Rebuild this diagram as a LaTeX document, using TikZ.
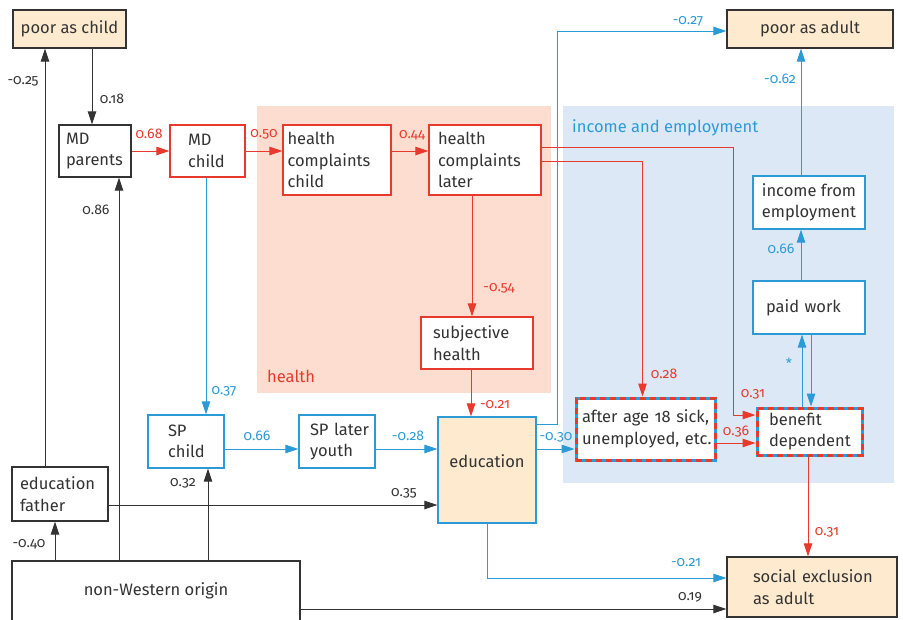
\documentclass[tikz,border=0pt]{standalone}
\usepackage{fontspec}
\setmainfont{Fira Sans}[Numbers=OldStyle]
\usetikzlibrary{arrows.meta}
\definecolor{dk}{HTML}{333333}
\definecolor{rd}{HTML}{E8392D}
\definecolor{bl}{HTML}{2B9BD7}
\definecolor{bgc}{HTML}{FEEBCF}
\definecolor{hbg}{HTML}{FDDDD0}
\definecolor{ibg}{HTML}{DCE8F5}
\newcommand\bxf{\fontsize{16.5}{21.5}\selectfont}
\newcommand\lbf{\fontsize{14}{16}\selectfont}
\begin{document}
\begin{tikzpicture}[x=1pt,y=-1pt,
 bx/.style={draw=dk, line width=1.3pt, fill=white, inner ysep=0pt, font=\bxf, text=dk, align=left},
 wl/.style 2 args={inner xsep=#2pt, text width=#1pt},
 ctr/.style 2 args={minimum width=#1pt, minimum height=#2pt, align=center, inner xsep=0pt},
 rb/.style={bx, draw=rd},
 bb/.style={bx, draw=bl},
 db/.style={bx, draw=bl, line width=3pt, postaction={draw=rd, fill=none, line width=3pt, dash pattern=on 6pt off 4pt}},
 arr/.style={line width=1pt, -{Triangle[length=13pt,width=8.5pt]}},
 ra/.style={arr, rd}, ba/.style={arr, bl}, ka/.style={arr, dk},
 lb/.style={font=\lbf, inner sep=0pt},
]
\useasboundingbox (0,0) rectangle (903,619);
\fill[white] (0,0) rectangle (903,619);
\fill[hbg] (257,106) rectangle (551,393);
\fill[ibg] (563,106) rectangle (894,483);
\node[font=\bxf, text=rd, anchor=base west, inner sep=0pt] (hl) at (267,382) {health};
\node[font=\bxf, text=bl, anchor=base west, inner sep=0pt] (il) at (572,132) {income and employment};

% boxes
\node[bx, fill=bgc, ctr={113}{38}] (pac) at (69.5,29) {poor as child};
\node[bx, wl={58}{7}, minimum height=52pt] (mdp) at (95,151) {MD\\parents};
\node[rb, wl={39}{18}, minimum height=52pt] (mdc) at (207.5,151) {MD\\child};
\node[rb, wl={99}{4.5}, minimum height=70pt] (hcc) at (337,160) {health\\complaints\\child};
\node[rb, wl={94}{9}, minimum height=70pt] (hcl) at (485,160) {health\\complaints\\later};
\node[rb, wl={88}{12}, minimum height=52pt] (sh) at (477,343) {subjective\\health};
\node[bx, fill=bgc, ctr={166}{38}] (paa) at (810,29) {poor as adult};
\node[bb, ctr={112}{53}] (inc) at (809,202.5) {income from\\employment};
\node[bb, wl={86}{13}, minimum height=53pt] (pw) at (809,307.5) {paid work};
\node[db, wl={81}{12}, minimum height=47pt] (ben) at (809.5,431.5) {benefit\\dependent};
\node[db, wl={127}{6}, minimum height=62pt] (aft) at (645.5,429) {\mbox{after age 18 sick,}\\\mbox{unemployed, etc.}};
\node[bb, fill=bgc, ctr={98}{106}, text depth=18pt] (edu) at (487,470) {education};
\node[bb, wl={36}{20}, minimum height=53pt] (spc) at (186,441.5) {SP\\child};
\node[bb, wl={54}{11}, minimum height=53pt] (spl) at (337,441.5) {\mbox{SP later}\\youth};
\node[bx, wl={80}{8}, minimum height=54pt] (edf) at (60,494) {education\\father};
\node[bx, ctr={288}{60}] (nwo) at (156,591) {non-Western origin};
\node[bx, fill=bgc, wl={118}{26}, minimum height=60pt] (sea) at (812,587) {\mbox{social exclusion}\\as adult};

% black connectors
\draw[ka] ([xshift=-3pt]mdp.north |- pac.south) -- ([xshift=-3pt]mdp.north);
\draw[ka] ([xshift=-15pt]edf.north) -- ([xshift=-15pt]edf.north |- pac.south);
\draw[ka] ([xshift=-5pt]edf.south |- nwo.north) -- ([xshift=-5pt]edf.south);
\draw[ka] ([xshift=24pt]mdp.south |- nwo.north) -- ([xshift=24pt]mdp.south);
\draw[ka] ([xshift=22pt]spc.south |- nwo.north) -- ([xshift=22pt]spc.south);
\draw[ka] ([yshift=-18pt]nwo.east) -- ([yshift=-18pt]nwo.east -| sea.west);
\draw[ka] ([yshift=-11pt]edf.east) -- ([yshift=-11pt]edf.east -| edu.west);
% red connectors
\draw[ra] (mdp.east) -- (mdc.west);
\draw[ra] (mdc.east) -- (mdc.east -| hcc.west);
\draw[ra] ([yshift=9pt]hcc.east) -- ([yshift=9pt]hcc.east -| hcl.west);
\draw[ra] ([xshift=-13pt]hcl.south) -- ([xshift=-13pt]hcl.south |- sh.north);
\draw[ra] ([xshift=-6pt]sh.south) -- ([xshift=-6pt]sh.south |- edu.north);
\draw[ra] ([yshift=13pt]hcl.east) -- ++(192,0) |- ([yshift=16.5pt]ben.west);
\draw[ra] ([yshift=-1pt]hcl.east) -| ([xshift=-3pt]aft.north);
\draw[ra] ([yshift=-14pt]aft.east) -- ([yshift=-14pt]aft.east -| ben.west);
\draw[ra] ([xshift=-1.5pt]ben.south) -- ([xshift=-1.5pt]ben.south |- sea.north);
% blue connectors
\draw[ba] ([xshift=-1.5pt]mdc.south) -- ([xshift=-1.5pt]mdc.south |- spc.north);
\draw[ba] ([yshift=-7.5pt]spc.east) -- ([yshift=-7.5pt]spc.east -| spl.west);
\draw[ba] ([yshift=-7.5pt]spl.east) -- ([yshift=-7.5pt]spl.east -| edu.west);
\draw[ba] ([yshift=21pt]edu.east) -- ([yshift=21pt]edu.east -| aft.west);
\draw[ba] ([yshift=46pt]edu.east) -- ++(21,0) |- ([yshift=-2pt]paa.west);
\draw[ba] (edu.south) |- ([yshift=9pt]sea.west);
\draw[ba] ([xshift=-8pt]pw.north) -- ([xshift=-8pt]pw.north |- inc.south);
\draw[ba] ([xshift=-8pt]inc.north) -- ([xshift=-8pt]inc.north |- paa.south);
\draw[ba] ([xshift=-7.5pt]ben.north) -- ([xshift=-7.5pt]ben.north |- pw.south);
\draw[ba] ([xshift=2pt]pw.south) -- ([xshift=2pt]pw.south |- ben.north);

% labels
\node[lb, text=dk] (l018) at (112,99) {0.18};
\node[lb, text=dk] (l025) at (23,81) {-0.25};
\node[lb, text=dk] (l086) at (96,210) {0.86};
\node[lb, text=dk] (l032) at (183,483) {0.32};
\node[lb, text=dk] (l035) at (404,493) {0.35};
\node[lb, text=dk] (l040) at (29,544) {-0.40};
\node[lb, text=dk] (l019) at (690,597) {0.19};
\node[lb, text=rd] (l068) at (149,134) {0.68};
\node[lb, text=rd] (l050) at (264,134) {0.50};
\node[lb, text=rd] (l044) at (412,135) {0.44};
\node[lb, text=rd] (l054) at (499,288) {-0.54};
\node[lb, text=rd] (l021r) at (495,405) {-0.21};
\node[lb, text=rd] (l028) at (664,374) {0.28};
\node[lb, text=rd] (l031a) at (753,394) {0.31};
\node[lb, text=rd] (l036) at (736,432) {0.36};
\node[lb, text=rd] (l031b) at (827,532) {0.31};
\node[lb, text=bl] (l037) at (224,391) {0.37};
\node[lb, text=bl] (l066a) at (257,436) {0.66};
\node[lb, text=bl] (l028b) at (408,436) {-0.28};
\node[lb, text=bl] (l030) at (556,437) {-0.30};
\node[lb, text=bl] (l027) at (688,21) {-0.27};
\node[lb, text=bl] (l062) at (780,79) {-0.62};
\node[lb, text=bl] (l066b) at (781,249) {0.66};
\node[lb, text=bl] (l021b) at (686,563) {-0.21};
\node[lb, text=bl] (lst) at (789,363) {*};
\end{tikzpicture}
\end{document}
